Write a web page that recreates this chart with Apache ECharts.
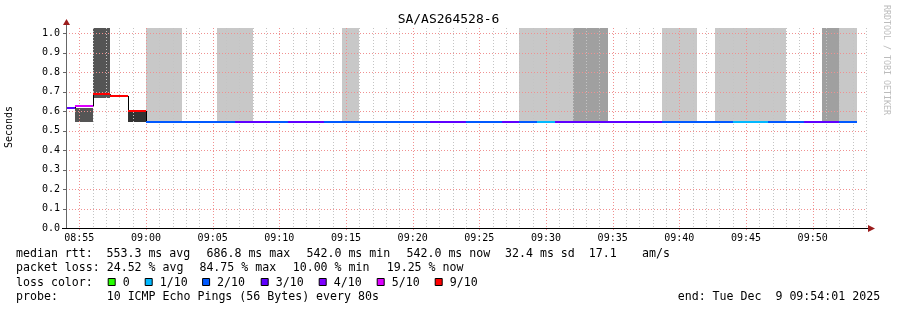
<!DOCTYPE html>
<html><head><meta charset="utf-8">
<script src="https://cdn.jsdelivr.net/npm/echarts@6/dist/echarts.min.js"></script>
<style>html,body{margin:0;padding:0;background:#fff}#c{width:897px;height:310px}</style>
</head><body><div id="c"></div>
<script>
// ---------- data ----------
const title = 'SA/AS264528-6';
const yAxisName = 'Seconds';
const watermark = 'RRDTOOL / TOBI OETIKER';
const xTickLabels = ['08:55','09:00','09:05','09:10','09:15','09:20','09:25','09:30','09:35','09:40','09:45','09:50'];
const yTickValues = [0.1,0.2,0.3,0.4,0.5,0.6,0.7,0.8,0.9,1.0];
const axisStart = '08:54:00', axisEnd = '09:54:00';

const stepStart = [
 '08:54:01','08:54:40','08:56:00','08:57:20','08:58:40',
 '09:00:00','09:01:20','09:02:40','09:04:00','09:05:20','09:06:40','09:08:00','09:09:20','09:10:40','09:12:00',
 '09:13:20','09:14:40','09:16:00','09:17:20','09:18:40','09:20:00','09:21:20','09:22:40','09:24:00','09:25:20',
 '09:26:40','09:28:00','09:29:20','09:30:40','09:32:00','09:33:20','09:34:40','09:36:00','09:37:20','09:38:40',
 '09:40:00','09:41:20','09:42:40','09:44:00','09:45:20','09:46:40','09:48:00','09:49:20','09:50:40','09:52:00'];
const lastStepEnd = '09:53:20';
// median rtt per step (seconds)
const medianRtt = [
 0.614,0.625,0.687,0.678,0.601,
 0.542,0.542,0.542,0.542,0.542,0.542,0.542,0.542,0.542,0.542,
 0.542,0.542,0.542,0.542,0.542,0.542,0.542,0.542,0.542,0.542,
 0.542,0.542,0.542,0.542,0.542,0.542,0.542,0.542,0.542,0.542,
 0.542,0.542,0.542,0.542,0.542,0.542,0.542,0.542,0.542,0.542];
// lost pings out of 10 per step
const lossCount = [
 3,5,9,9,9,
 2,2,2,2,2,3,3,2,3,3,
 2,2,2,2,2,2,3,3,2,2,
 3,2,1,3,3,3,3,3,3,2,
 2,2,2,1,1,2,2,3,3,2];
// smoke (ping spread) per step: low / high (s) and shade level (0 = none)
const smokeLow = [
 null,0.545,0.670,null,0.545,
 0.545,0.545,null,null,0.545,0.545,null,null,null,null,
 null,0.545,null,null,null,null,null,null,null,null,
 null,0.545,0.545,0.545,0.545,0.545,null,null,null,0.545,
 0.545,null,0.545,0.545,0.545,0.545,null,null,0.545,0.545];
const smokeHigh = [
 null,0.616,1.2,null,0.601,
 1.2,1.2,null,null,1.2,1.2,null,null,null,null,
 null,1.2,null,null,null,null,null,null,null,null,
 null,1.2,1.2,1.2,1.2,1.2,null,null,null,1.2,
 1.2,null,1.2,1.2,1.2,1.2,null,null,1.2,1.2];
const smokeShade = [
 0,3,3,0,4,
 1,1,0,0,1,1,0,0,0,0,
 0,1,0,0,0,0,0,0,0,0,
 0,1,1,1,2,2,0,0,0,1,
 1,0,1,1,1,1,0,0,2,1];

const legendLossCounts = [0,1,2,3,4,5,9];
const legendLossLabels = ['0','1/10','2/10','3/10','4/10','5/10','9/10'];

const statsRtt = ['median rtt:','553.3 ms avg','686.8 ms max','542.0 ms min','542.0 ms now','32.4 ms sd','17.1','am/s'];
const statsLoss = ['packet loss:','24.52 % avg','84.75 % max','10.00 % min','19.25 % now'];
const lossColorLabel = 'loss color:';
const probeLabel = 'probe:';
const probeText = '10 ICMP Echo Pings (56 Bytes) every 80s';
const endText = 'end: Tue Dec  9 09:54:01 2025';

// ---------- styles ----------
const LOSS_COLORS = {0:'#26ff00',1:'#00b8ff',2:'#0059ff',3:'#5e00ff',4:'#7e00ff',5:'#dd00ff',9:'#ff0000'};
const SHADES = {1:'#c8c8c8',2:'#a0a0a0',3:'#555555',4:'#333333'};
const MONO = "'DejaVu Sans Mono', monospace";
const Y_MAX = 1.027;

const toSec = s => { const p = s.split(':').map(Number); return p[0]*3600 + p[1]*60 + (p[2]||0); };
const X_MIN = toSec(axisStart), X_MAX = toSec(axisEnd);
const starts = stepStart.map(toSec);
const ends = starts.slice(1).concat([toSec(lastStepEnd)]);

const smokeData = [];
const lossData = [];
const joinData = [];
for (let i = 0; i < starts.length; i++) {
  if (smokeShade[i]) smokeData.push([starts[i], ends[i], smokeLow[i], smokeHigh[i], smokeShade[i]]);
  lossData.push([starts[i], ends[i], medianRtt[i], lossCount[i]]);
  if (i > 0 && medianRtt[i] !== medianRtt[i-1]) joinData.push([starts[i], medianRtt[i-1], medianRtt[i]]);
}
const minorGrid = [];
for (let t = X_MIN + 60; t <= X_MAX; t += 60) minorGrid.push([t]);
const majorGrid = xTickLabels.map(s => [toSec(s)]);
const hGrid = yTickValues.map(v => [v]);
const snap = v => Math.round(v) + 0.5;

const chart = echarts.init(document.getElementById('c'), null, {renderer:'canvas'});

const graphic = [
  {type:'text', left:'center', top:13, style:{text:title, font:'13px '+MONO, fill:'#000', align:'center'}},
  {type:'text', x:9, y:127, rotation:Math.PI/2, style:{text:yAxisName, font:'10px '+MONO, fill:'#000', align:'center', verticalAlign:'middle'}},
  {type:'text', x:886.5, y:60, rotation:-Math.PI/2, style:{text:watermark, font:'8.3px '+MONO, fill:'#bcbcbc', align:'center', verticalAlign:'middle'}},
  // axis lines + arrows
  {type:'line', z:100, shape:{x1:66.5,y1:229,x2:66.5,y2:24}, style:{stroke:'#666', lineWidth:1}},
  {type:'line', z:100, shape:{x1:62,y1:228.5,x2:869,y2:228.5}, style:{stroke:'#000', lineWidth:1}},
  {type:'polygon', z:101, shape:{points:[[66.5,19],[63,25],[70,25]]}, style:{fill:'#9b1c1c'}},
  {type:'polygon', z:101, shape:{points:[[875,228.5],[868,225],[868,232]]}, style:{fill:'#9b1c1c'}}
];
// stats lines
const rttX = [16,106.5,206.5,306.5,406.5,505,588.7,642];
statsRtt.forEach((s,i)=>graphic.push({type:'text', x:rttX[i], y:254, style:{text:s, font:'11.6px '+MONO, fill:'#000', verticalAlign:'middle'}}));
const lossX = [16,106.7,199.4,292.7,386.7];
statsLoss.forEach((s,i)=>graphic.push({type:'text', x:lossX[i], y:268.3, style:{text:s, font:'11.6px '+MONO, fill:'#000', verticalAlign:'middle'}}));
graphic.push({type:'text', x:16, y:282.7, style:{text:lossColorLabel, font:'11.6px '+MONO, fill:'#000', verticalAlign:'middle'}});
const legX = [122.7,159.7,217.1,275.7,333.7,391.7,449.7];
legendLossCounts.forEach((c,i)=>{
  graphic.push({type:'rect', shape:{x:legX[i]-14.5, y:278.5, width:7, height:7}, style:{fill:LOSS_COLORS[c], stroke:'#000', lineWidth:1}});
  graphic.push({type:'text', x:legX[i], y:282.7, style:{text:legendLossLabels[i], font:'11.6px '+MONO, fill:'#000', verticalAlign:'middle'}});
});
graphic.push({type:'text', x:16, y:296.7, style:{text:probeLabel, font:'11.6px '+MONO, fill:'#000', verticalAlign:'middle'}});
graphic.push({type:'text', x:106.7, y:296.7, style:{text:probeText, font:'11.6px '+MONO, fill:'#000', verticalAlign:'middle'}});
graphic.push({type:'text', x:677.7, y:296.7, style:{text:endText, font:'11.6px '+MONO, fill:'#000', verticalAlign:'middle'}});

const option = {
  animation:false,
  backgroundColor:'#fff',
  grid:{left:66, top:28, width:800, height:200, containLabel:false},
  xAxis:{type:'value', min:X_MIN, max:X_MAX, interval:60,
    axisLine:{show:false}, axisTick:{show:false}, splitLine:{show:false},
    axisLabel:{show:true, margin:5, color:'#000', fontFamily:'DejaVu Sans Mono', fontSize:10, showMinLabel:true, showMaxLabel:true,
      formatter:v=>{ const h=Math.floor(v/3600), m=Math.floor((v%3600)/60); const s=String(h).padStart(2,'0')+':'+String(m).padStart(2,'0'); return (v%60===0 && xTickLabels.includes(s)) ? s : ''; }}},
  yAxis:{type:'value', min:0, max:Y_MAX, interval:0.1,
    axisLine:{show:false}, axisTick:{show:false}, splitLine:{show:false},
    axisLabel:{margin:6, color:'#000', fontFamily:'DejaVu Sans Mono', fontSize:10, showMaxLabel:false,
      formatter:v=> v > 1.0001 ? '' : v.toFixed(1)}},
  graphic: graphic,
  series:[
    {type:'custom', z:1, silent:true, data:smokeData, encode:{x:[0,1], y:[2,3]},
      renderItem:(params, api)=>{
        const x0 = Math.round(api.coord([api.value(0), 0])[0]), x1 = Math.round(api.coord([api.value(1), 0])[0]);
        const yLo = Math.round(api.coord([X_MIN, api.value(2)])[1]);
        const yHi = Math.round(api.coord([X_MIN, Math.min(api.value(3), Y_MAX)])[1]);
        return {type:'rect', shape:{x:x0, y:yHi, width:x1-x0, height:yLo-yHi}, style:{fill:SHADES[api.value(4)]}};
      }},
    {type:'custom', z:2, silent:true, data:minorGrid, encode:{x:0},
      renderItem:(params, api)=>{
        const cs = params.coordSys; const x = snap(api.coord([api.value(0), 0])[0]);
        return {type:'line', shape:{x1:x, y1:cs.y, x2:x, y2:cs.y+cs.height}, style:{stroke:'#c4c4c4', lineWidth:1, lineDash:[1,2]}};
      }},
    {type:'custom', z:3, silent:true, data:majorGrid, encode:{x:0},
      renderItem:(params, api)=>{
        const cs = params.coordSys; const x = snap(api.coord([api.value(0), 0])[0]);
        return {type:'line', shape:{x1:x, y1:cs.y, x2:x, y2:cs.y+cs.height+3}, style:{stroke:'#f09090', lineWidth:1, lineDash:[1,2]}};
      }},
    {type:'custom', z:3, silent:true, data:hGrid, encode:{y:0},
      renderItem:(params, api)=>{
        const cs = params.coordSys; const y = snap(api.coord([X_MIN, api.value(0)])[1]);
        return {type:'group', children:[
          {type:'line', shape:{x1:cs.x, y1:y, x2:cs.x+cs.width+1, y2:y}, style:{stroke:'#f09090', lineWidth:1, lineDash:[1,2]}},
          {type:'line', shape:{x1:cs.x-3, y1:y, x2:cs.x, y2:y}, style:{stroke:'#666', lineWidth:1}}
        ]};
      }},
    // black vertical joins of the median step line
    {type:'custom', z:4, silent:true, data:joinData, encode:{x:0, y:[1,2]},
      renderItem:(params, api)=>{
        const p0 = api.coord([api.value(0), api.value(1)]);
        const p1 = api.coord([api.value(0), api.value(2)]);
        const x = Math.round(p0[0]) + 0.5;
        return {type:'line', shape:{x1:x, y1:p0[1], x2:x, y2:p1[1]}, style:{stroke:'#000', lineWidth:1}};
      }},
    // median line coloured by loss
    {type:'custom', z:5, silent:true, data:lossData, encode:{x:[0,1], y:2},
      renderItem:(params, api)=>{
        const p0 = api.coord([api.value(0), api.value(2)]);
        const p1 = api.coord([api.value(1), api.value(2)]);
        const x0 = Math.round(p0[0]), x1 = Math.round(p1[0]);
        return {type:'rect', shape:{x:x0, y:Math.round(p0[1]-1), width:x1-x0, height:2}, style:{fill:LOSS_COLORS[api.value(3)]}};
      }}
  ]
};
chart.setOption(option);
</script>
</body></html>
